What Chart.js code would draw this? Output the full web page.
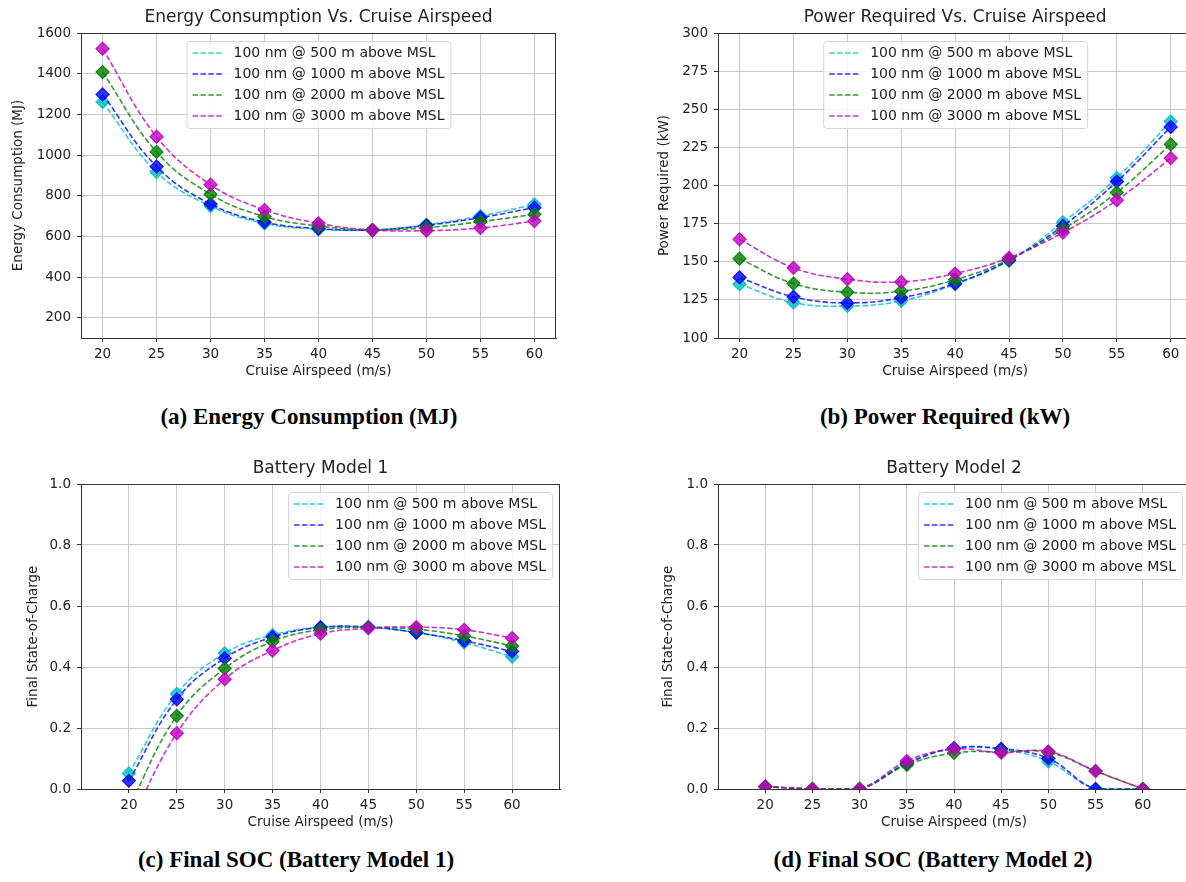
<!DOCTYPE html>
<html>
<head>
<meta charset="utf-8">
<script src="https://cdn.jsdelivr.net/npm/chart.js@4.4.1/dist/chart.umd.min.js"></script>
<style>
  html, body { margin: 0; padding: 0; background: #fff; width: 1186px; height: 882px; overflow: hidden; position: relative; }
  canvas { position: absolute; }
  .caption { position: absolute; font-family: "Liberation Serif", "Times New Roman", serif; font-weight: bold;
             font-size: 23px; color: #000; white-space: nowrap; transform: translate(-50%, -50%); }
</style>
</head>
<body>
<canvas id="energyChart" width="600" height="384" style="left:0;top:0"></canvas>
<canvas id="powerChart" width="600" height="384" style="left:600px;top:0"></canvas>
<canvas id="soc1Chart" width="600" height="395" style="left:0;top:440px"></canvas>
<canvas id="soc2Chart" width="600" height="395" style="left:600px;top:440px"></canvas>

<div class="caption" style="left:309px;top:417px">(a) Energy Consumption (MJ)</div>
<div class="caption" style="left:945px;top:417px">(b) Power Required (kW)</div>
<div class="caption" style="left:296px;top:860px">(c) Final SOC (Battery Model 1)</div>
<div class="caption" style="left:933px;top:860px">(d) Final SOC (Battery Model 2)</div>

<script>
// x values and labels
const airspeed = [20, 25, 30, 35, 40, 45, 50, 55, 60];
const seriesLabels = ['100 nm @ 500 m above MSL', '100 nm @ 1000 m above MSL',
                      '100 nm @ 2000 m above MSL', '100 nm @ 3000 m above MSL'];

// (a) energy consumption, MJ
const energy500  = [1261, 916, 749, 664, 635, 631, 657, 700, 757];
const energy1000 = [1298, 943, 759, 670, 638, 631, 654, 692, 741];
const energy2000 = [1408, 1015, 807, 697, 651, 631, 643, 672, 708];
const energy3000 = [1523, 1090, 854, 730, 664, 631, 628, 641, 675];

// (b) power required, kW
const power500  = [135.3, 123.2, 121.0, 124.3, 135.3, 150.7, 175.9, 205.0, 242.0];
const power1000 = [139.7, 127.0, 123.0, 126.4, 135.7, 151.0, 173.5, 202.6, 238.4];
const power2000 = [152.0, 135.7, 130.0, 130.7, 138.2, 151.5, 171.3, 195.4, 227.0];
const power3000 = [164.7, 146.0, 138.6, 136.8, 142.3, 152.6, 169.1, 190.4, 218.0];

// (c) final SOC, battery model 1
const soc1_500  = [0.051, 0.312, 0.445, 0.505, 0.530, 0.530, 0.513, 0.480, 0.434];
const soc1_1000 = [0.027, 0.294, 0.429, 0.498, 0.530, 0.531, 0.513, 0.486, 0.451];
const soc1_2000 = [-0.06, 0.240, 0.395, 0.484, 0.522, 0.530, 0.524, 0.502, 0.469];
const soc1_3000 = [-0.12, 0.183, 0.360, 0.454, 0.509, 0.527, 0.531, 0.522, 0.495];

// (d) final SOC, battery model 2
const soc2_500  = [0.008, 0.0, 0.0, 0.085, 0.133, 0.130, 0.090, 0.0, 0.0];
const soc2_1000 = [0.008, 0.0, 0.0, 0.083, 0.134, 0.132, 0.100, 0.0, 0.0];
const soc2_2000 = [0.008, 0.0, 0.0, 0.079, 0.118, 0.122, 0.120, 0.059, 0.0];
const soc2_3000 = [0.008, 0.0, 0.0, 0.092, 0.131, 0.119, 0.123, 0.059, 0.0];

// tick labels
const xTicks = [20, 25, 30, 35, 40, 45, 50, 55, 60];
const energyTicks = [200, 400, 600, 800, 1000, 1200, 1400, 1600];
const powerTicks = [100, 125, 150, 175, 200, 225, 250, 275, 300];
const socTicks = [0, 0.2, 0.4, 0.6, 0.8, 1.0];

const colors = [[0, 191, 191], [0, 0, 255], [0, 128, 0], [191, 0, 191]];
const FONT = '"DejaVu Sans", Verdana, sans-serif';
const DASH = [5.5, 2.4];

function rgba(c, a) { return `rgba(${c[0]},${c[1]},${c[2]},${a})`; }

function makeDatasets(seriesList) {
    return seriesList.map((vals, k) => ({
        label: seriesLabels[k],
        data: airspeed.map((x, i) => ({ x: x, y: vals[i] })),
        borderColor: rgba(colors[k], 0.8),
        borderWidth: 1.6,
        borderDash: DASH,
        tension: 0.4,
        pointStyle: 'rectRot',
        pointRadius: 6.5,
        pointBorderWidth: 1.2,
        pointBackgroundColor: rgba(colors[k], 0.8),
        pointBorderColor: rgba(colors[k], 0.9),
        order: 4 - k
    }));
}

// matplotlib-like extras: top/right spines, title, legend inside the axes
const mplDecor = {
    id: 'mplDecor',
    afterDraw(chart, args, opts) {
        const ctx = chart.ctx;
        const a = chart.chartArea;
        ctx.save();
        ctx.strokeStyle = '#333';
        ctx.lineWidth = 1;
        ctx.beginPath();
        ctx.moveTo(a.left, a.top + 0.5);
        ctx.lineTo(a.right, a.top + 0.5);
        ctx.moveTo(a.right - 0.5, a.top);
        ctx.lineTo(a.right - 0.5, a.bottom);
        ctx.stroke();

        ctx.fillStyle = '#222';
        ctx.font = '17px ' + FONT;
        ctx.textAlign = 'center';
        ctx.textBaseline = 'middle';
        ctx.fillText(opts.title, (a.left + a.right) / 2, a.top - 15);

        // legend
        const fs = 14, pad = 6, handle = 30, gap = 11, rowH = 21;
        ctx.font = fs + 'px ' + FONT;
        const sets = chart.data.datasets;
        const textW = Math.max(...sets.map(d => ctx.measureText(d.label).width));
        const boxW = pad + handle + gap + textW + pad;
        const boxH = rowH * (sets.length - 1) + 24;
        let bx;
        if (opts.legendAlign === 'right') bx = a.right - 8 - boxW;
        else bx = (a.left + a.right) / 2 - boxW / 2;
        const by = a.top + 8;
        ctx.fillStyle = 'rgba(255,255,255,0.8)';
        ctx.strokeStyle = '#d6d6d6';
        ctx.beginPath();
        ctx.roundRect(bx + 0.5, by + 0.5, boxW, boxH, 3);
        ctx.fill();
        ctx.stroke();
        sets.forEach((d, i) => {
            const y = by + 12 + i * rowH;
            ctx.strokeStyle = d.borderColor;
            ctx.lineWidth = 1.6;
            ctx.setLineDash(DASH);
            ctx.beginPath();
            ctx.moveTo(bx + pad, y);
            ctx.lineTo(bx + pad + handle, y);
            ctx.stroke();
            ctx.setLineDash([]);
            ctx.fillStyle = '#222';
            ctx.textAlign = 'left';
            ctx.textBaseline = 'middle';
            ctx.fillText(d.label, bx + pad + handle + gap, y);
        });
        ctx.restore();
    }
};

function makeChart(id, cfg) {
    const tickFont = { family: FONT, size: 13.5 };
    new Chart(document.getElementById(id), {
        type: 'line',
        data: { datasets: makeDatasets(cfg.series) },
        options: {
            responsive: false,
            animation: false,
            devicePixelRatio: 1,
            layout: { padding: cfg.padding },
            plugins: {
                legend: { display: false },
                tooltip: { enabled: false },
                mplDecor: { title: cfg.title, legendAlign: cfg.legendAlign }
            },
            scales: {
                x: {
                    type: 'linear',
                    min: cfg.xMin,
                    max: cfg.xMax,
                    afterBuildTicks: s => { s.ticks = xTicks.map(v => ({ value: v })); },
                    afterFit: s => { s.height = cfg.xHeight; },
                    grid: { color: '#c8c8c8', lineWidth: 1, tickLength: 4, tickColor: '#333' },
                    border: { color: '#333', width: 1 },
                    ticks: { font: tickFont, color: '#222', padding: 4, maxRotation: 0, autoSkip: false,
                             callback: v => String(v) },
                    title: { display: true, text: 'Cruise Airspeed (m/s)', font: tickFont, color: '#222',
                             padding: { top: 2, bottom: 4 } }
                },
                y: {
                    min: cfg.yMin,
                    max: cfg.yMax,
                    afterBuildTicks: s => { s.ticks = cfg.yTicks.map(v => ({ value: v })); },
                    afterFit: s => { s.width = cfg.yWidth; },
                    grid: { color: '#c8c8c8', lineWidth: 1, tickLength: 4, tickColor: '#333' },
                    border: { color: '#333', width: 1 },
                    ticks: { font: tickFont, color: '#222', padding: 6, autoSkip: false,
                             callback: cfg.yFormat },
                    title: { display: true, text: cfg.yTitle, font: tickFont, color: '#222',
                             padding: { top: 4, bottom: 4 } }
                }
            }
        },
        plugins: [mplDecor]
    });
}

makeChart('energyChart', {
    series: [energy500, energy1000, energy2000, energy3000],
    title: 'Energy Consumption Vs. Cruise Airspeed',
    legendAlign: 'center',
    padding: { left: 6, top: 33, right: 44, bottom: 0 },
    yWidth: 75, xHeight: 46,
    xMin: 18, xMax: 62, yMin: 100, yMax: 1600,
    yTicks: energyTicks, yFormat: v => String(v),
    yTitle: 'Energy Consumption (MJ)'
});

makeChart('powerChart', {
    series: [power500, power1000, power2000, power3000],
    title: 'Power Required Vs. Cruise Airspeed',
    legendAlign: 'center',
    padding: { left: 52, top: 33, right: 7, bottom: 0 },
    yWidth: 66, xHeight: 46,
    xMin: 18, xMax: 62, yMin: 100, yMax: 300,
    yTicks: powerTicks, yFormat: v => String(v),
    yTitle: 'Power Required (kW)'
});

makeChart('soc1Chart', {
    series: [soc1_500, soc1_1000, soc1_2000, soc1_3000],
    title: 'Battery Model 1',
    legendAlign: 'right',
    padding: { left: 21, top: 44, right: 40, bottom: 0 },
    yWidth: 60, xHeight: 46,
    xMin: 15, xMax: 65, yMin: 0, yMax: 1,
    yTicks: socTicks, yFormat: v => v.toFixed(1),
    yTitle: 'Final State-of-Charge'
});

makeChart('soc2Chart', {
    series: [soc2_500, soc2_1000, soc2_2000, soc2_3000],
    title: 'Battery Model 2',
    legendAlign: 'right',
    padding: { left: 56, top: 44, right: 10, bottom: 0 },
    yWidth: 62, xHeight: 46,
    xMin: 15, xMax: 65, yMin: 0, yMax: 1,
    yTicks: socTicks, yFormat: v => v.toFixed(1),
    yTitle: 'Final State-of-Charge'
});
</script>
</body>
</html>
